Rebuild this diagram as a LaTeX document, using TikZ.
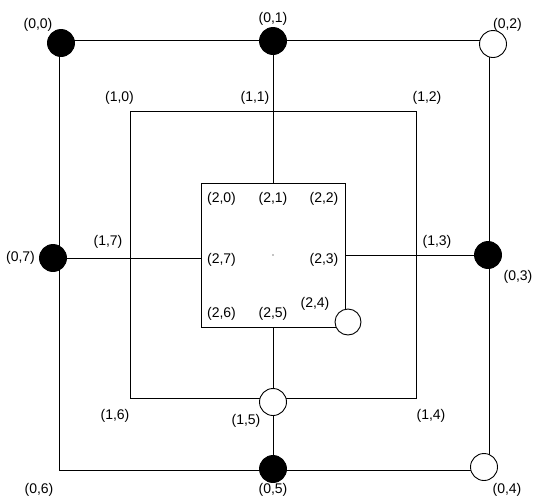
\documentclass[tikz,border=0pt]{standalone}
\usepackage{fontspec}
\setmainfont{Liberation Sans}
\begin{document}
\begin{tikzpicture}[x=1pt,y=-1pt,
  edge/.style={line width=1pt,line join=miter},
  dotb/.style={circle,draw,line width=0.9pt,fill=black,minimum size=27pt,inner sep=0pt},
  dotw/.style={circle,draw,line width=0.9pt,fill=white,minimum size=27pt,inner sep=0pt},
  lbl/.style={font=\fontsize{14}{16}\selectfont,inner sep=0pt}]
\useasboundingbox (0,0) rectangle (539,504);
% square corners
\coordinate (oTL) at (59,40);   \coordinate (oBR) at (489,470);
\coordinate (mTL) at (130,111); \coordinate (mBR) at (416,398);
\coordinate (iTL) at (201,183); \coordinate (iBR) at (345,327);
% connector ends
\coordinate (oT) at (273,40);  \coordinate (iT) at (273,183);
\coordinate (oB) at (273,470); \coordinate (iB) at (273,327);
\coordinate (oL) at (59,258);  \coordinate (iL) at (201,258);
\coordinate (oR) at (489,255); \coordinate (iR) at (345,255);
% squares
\draw[edge] (oTL) rectangle (oBR);
\draw[edge] (mTL) rectangle (mBR);
\draw[edge] (iTL) rectangle (iBR);
% cross connectors
\draw[edge] (oT) -- (iT);
\draw[edge] (iB) -- (oB);
\draw[edge] (oL) -- (iL);
\draw[edge] (iR) -- (oR);
% centre dot
\fill (273,255) circle (0.6pt);
% pieces
\node[dotb] (p00) at (61,43) {};
\node[dotb] (p01) at (273,41) {};
\node[dotw] (p02) at (493,44) {};
\node[dotb] (p03) at (488,255) {};
\node[dotw] (p04) at (484,467) {};
\node[dotb] (p05) at (273,469) {};
\node[dotb] (p07) at (53,258) {};
\node[dotw] (p15) at (273,402) {};
\node[dotw,minimum size=26pt] (p24) at (348,322) {};
% labels
\node[lbl] (l00) at (38,25) {(0,0)};
\node[lbl] (l01) at (273,19) {(0,1)};
\node[lbl] (l02) at (507.5,25) {(0,2)};
\node[lbl] (l03) at (518,277) {(0,3)};
\node[lbl] (l04) at (507,490) {(0,4)};
\node[lbl] (l05) at (273,490) {(0,5)};
\node[lbl] (l06) at (39,490) {(0,6)};
\node[lbl] (l07) at (20.5,258) {(0,7)};
\node[lbl] (l10) at (119.5,97.5) {(1,0)};
\node[lbl] (l11) at (255,97.5) {(1,1)};
\node[lbl] (l12) at (427,97.5) {(1,2)};
\node[lbl] (l13) at (437,242) {(1,3)};
\node[lbl] (l14) at (431,416) {(1,4)};
\node[lbl] (l15) at (246,421) {(1,5)};
\node[lbl] (l16) at (115,416) {(1,6)};
\node[lbl] (l17) at (108,242) {(1,7)};
\node[lbl] (l20) at (221.5,199) {(2,0)};
\node[lbl] (l21) at (273,199) {(2,1)};
\node[lbl] (l22) at (324,199) {(2,2)};
\node[lbl] (l23) at (324,260) {(2,3)};
\node[lbl] (l24) at (315,303.5) {(2,4)};
\node[lbl] (l25) at (273,313.5) {(2,5)};
\node[lbl] (l26) at (221.5,313.5) {(2,6)};
\node[lbl] (l27) at (221.5,260) {(2,7)};
\end{tikzpicture}
\end{document}
